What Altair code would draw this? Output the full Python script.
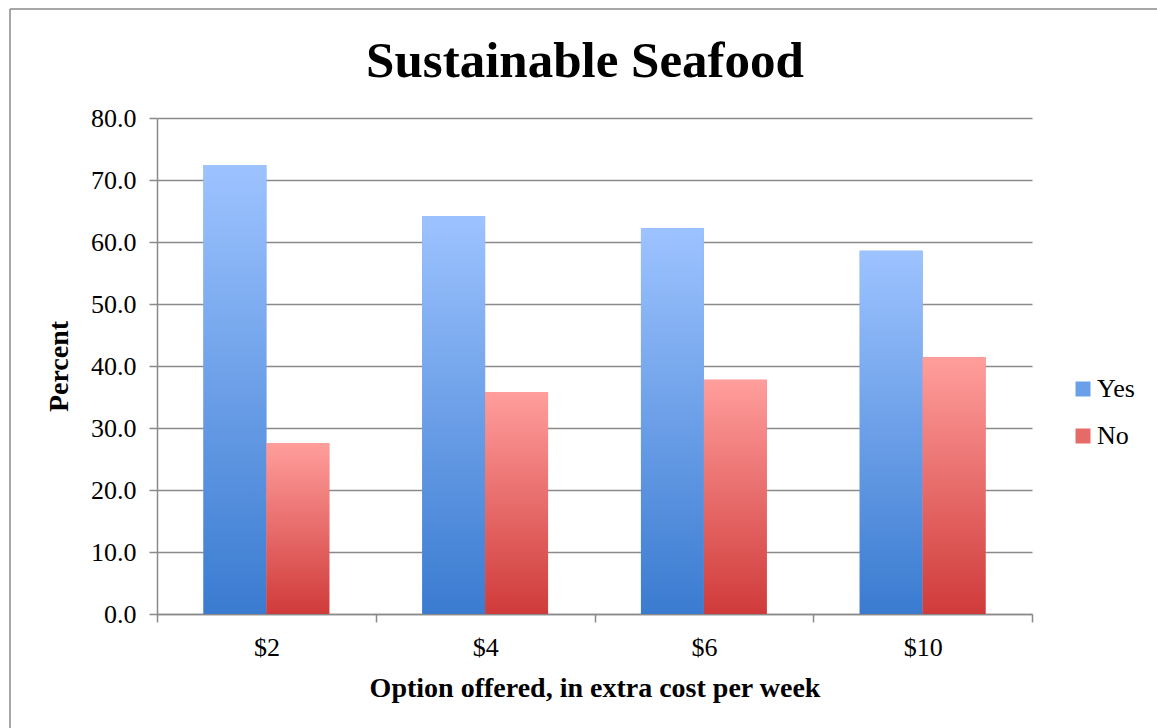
import altair as alt
import pandas as pd

# Survey answers by weekly surcharge
options = ["$2", "$4", "$6", "$10"]
yes_pct = [72.4, 64.2, 62.2, 58.6]
no_pct = [27.6, 35.8, 37.8, 41.4]
series = ["Yes", "No"]

rows = []
for opt, y, n in zip(options, yes_pct, no_pct):
    rows.append({"option": opt, "series": "Yes", "percent": y})
    rows.append({"option": opt, "series": "No", "percent": n})
df = pd.DataFrame(rows)

FONT = "Liberation Serif"
GRID = "#8a8a8a"

blue_grad = {
    "gradient": "linear", "x1": 0, "y1": 0, "x2": 0, "y2": 1,
    "stops": [{"offset": 0, "color": "#9dc3ff"}, {"offset": 1, "color": "#3a7bd0"}],
}
red_grad = {
    "gradient": "linear", "x1": 0, "y1": 0, "x2": 0, "y2": 1,
    "stops": [{"offset": 0, "color": "#ff9e9c"}, {"offset": 1, "color": "#cf3b3a"}],
}

x_enc = alt.X(
    "option:N",
    sort=options,
    scale=alt.Scale(paddingInner=0, paddingOuter=0),
    axis=alt.Axis(
        title="Option offered, in extra cost per week",
        tickBand="extent",
        tickSize=8,
        labelPadding=12,
        titlePadding=14,
        labelAngle=0,
    ),
)
y_enc = alt.Y(
    "percent:Q",
    scale=alt.Scale(domain=[0, 80], nice=False),
    axis=alt.Axis(
        title="Percent",
        values=list(range(0, 81, 10)),
        format=".1f",
        tickSize=8,
        labelPadding=13,
        titlePadding=17,
        grid=True,
    ),
)
xoff = alt.XOffset(
    "series:N",
    sort=series,
    scale=alt.Scale(domain=series, paddingInner=0, paddingOuter=0.738),
)

# solid bars that carry the legend
base = alt.Chart(df).mark_bar().encode(
    x=x_enc,
    y=y_enc,
    xOffset=xoff,
    color=alt.Color(
        "series:N",
        sort=series,
        scale=alt.Scale(domain=series, range=["#6a9fea", "#e66a68"]),
        legend=alt.Legend(
            title=None,
            orient="none",
            legendX=913,
            legendY=258,
            symbolType="square",
            symbolSize=225,
            symbolStrokeWidth=0,
            labelFontSize=26,
            labelFont=FONT,
            labelColor="#000000",
            rowPadding=21,
            labelOffset=1,
        ),
    ),
)

# gradient-filled bars drawn over the solid ones
grad = alt.Chart(df).mark_bar().encode(
    x=x_enc,
    y=y_enc,
    xOffset=xoff,
    color=alt.condition(alt.datum.series == "Yes", alt.value(blue_grad), alt.value(red_grad)),
)

one = pd.DataFrame({"k": [0]})
top_edge = alt.Chart(one).mark_rule(color="#8a8a8a", strokeWidth=1.5).encode(
    x=alt.value(-147), x2=alt.value(1010), y=alt.value(-109)
)
left_edge = alt.Chart(one).mark_rule(color="#8a8a8a", strokeWidth=1.5).encode(
    x=alt.value(-147), y=alt.value(-109), y2=alt.value(620)
)
heading = alt.Chart(one).mark_text(
    text="Sustainable Seafood",
    font=FONT,
    fontSize=51,
    fontWeight="bold",
    color="#000000",
    align="center",
    baseline="alphabetic",
).encode(x=alt.value(428), y=alt.value(-41))

chart = (
    alt.layer(top_edge, left_edge, base, grad, heading)
    .properties(
        width=875,
        height=496,
        autosize=alt.AutoSizeParams(type="none"),
        padding={"left": 157, "top": 118, "right": 125, "bottom": 114},
    )
    .configure_view(stroke=None)
    .configure_axis(
        labelFont=FONT,
        labelFontSize=26,
        labelColor="#000000",
        titleFont=FONT,
        titleFontSize=28,
        titleFontWeight="bold",
        titleColor="#000000",
        domainColor=GRID,
        tickColor=GRID,
        gridColor=GRID,
        gridOpacity=1,
        gridWidth=1.3,
        domainWidth=1.5,
        tickWidth=1.5,
    )
    .configure_axisX(grid=False)
)

chart.save("out.html", embed_options={"renderer": "svg", "actions": False})
